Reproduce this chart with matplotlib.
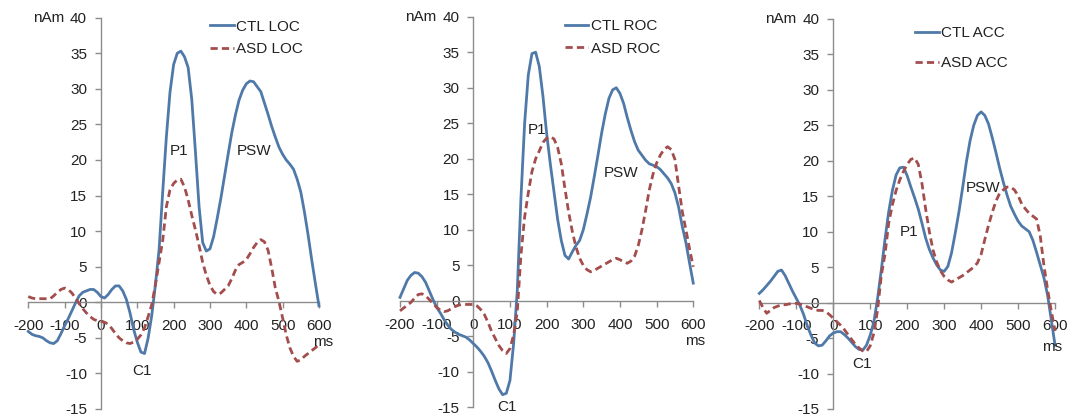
import matplotlib.pyplot as plt
from matplotlib.lines import Line2D

# ── data (10 ms steps) ───────────────────────────────────────────────────────

TIME_MS = list(range(-200, 601, 10))

CTL_LOC = [-4.1, -4.5, -4.7, -4.8, -5.0, -5.4, -5.7, -5.8, -5.4, -4.4,
           -3.3, -2.3, -1.2, -0.1, 0.9, 1.4, 1.6, 1.8, 1.8, 1.4,
           0.8, 0.6, 1.1, 1.8, 2.3, 2.3, 1.6, 0.4, -1.5, -3.8,
           -5.6, -7.0, -7.2, -5.0, -1.8, 2.5, 7.4, 15.5, 23.2, 29.5,
           33.4, 35.0, 35.3, 34.5, 33.0, 28.5, 21.2, 13.5, 8.4, 7.2,
           7.5, 9.2, 11.8, 14.6, 17.7, 20.8, 23.8, 26.3, 28.4, 29.8,
           30.7, 31.1, 31.0, 30.3, 29.6, 28.0, 26.4, 24.7, 23.2, 21.8,
           20.8, 20.0, 19.4, 18.7, 17.3, 15.5, 12.7, 9.5, 6.0, 2.7, -0.5]
ASD_LOC = [0.8, 0.6, 0.5, 0.5, 0.5, 0.5, 0.5, 0.9, 1.4, 1.8,
           2.0, 1.8, 1.3, 0.6, -0.2, -0.9, -1.5, -2.0, -2.4, -2.6,
           -2.7, -2.8, -3.1, -3.7, -4.4, -5.0, -5.4, -5.7, -5.8, -5.6,
           -5.2, -4.6, -3.6, -2.0, -0.3, 2.5, 5.6, 8.7, 13.4, 15.8,
           16.7, 17.2, 17.3, 16.2, 14.4, 12.2, 10.2, 8.0, 5.6, 3.8,
           2.4, 1.5, 1.1, 1.3, 1.8, 2.3, 3.3, 4.5, 5.3, 5.6,
           6.0, 6.8, 7.7, 8.4, 8.8, 8.5, 7.3, 4.8, 2.0, 0.1,
           -2.2, -4.6, -6.4, -7.6, -8.3, -8.1, -7.6, -7.2, -6.8, -6.4, -6.0]

CTL_ROC = [0.5, 1.7, 2.9, 3.6, 4.0, 3.9, 3.4, 2.6, 1.4, 0.2,
           -0.9, -1.7, -2.6, -3.4, -4.0, -4.4, -4.7, -4.9, -5.1, -5.5,
           -6.0, -6.5, -7.1, -7.8, -8.7, -9.9, -11.2, -12.4, -13.2, -13.0,
           -11.2, -6.0, 1.5, 14.5, 25.0, 31.8, 34.8, 35.0, 33.0, 28.8,
           23.6, 19.3, 15.4, 11.5, 8.5, 6.4, 5.9, 6.9, 7.8, 8.5,
           10.0, 12.2, 14.6, 17.5, 20.5, 23.6, 26.3, 28.5, 29.7, 30.0,
           29.2, 27.8, 25.8, 24.0, 22.4, 21.2, 20.5, 19.8, 19.3, 19.1,
           18.9, 18.5, 17.9, 17.3, 16.5, 15.2, 13.2, 10.5, 8.2, 5.3, 2.5]
ASD_ROC = [-1.4, -1.0, -0.6, -0.2, 0.4, 0.9, 1.0, 0.7, 0.2, -0.4,
           -0.9, -1.3, -1.5, -1.4, -1.1, -0.8, -0.6, -0.5, -0.5, -0.5,
           -0.5, -0.7, -1.2, -1.9, -3.0, -4.3, -5.3, -6.3, -7.0, -7.4,
           -6.7, -4.8, -1.5, 6.5, 11.8, 15.2, 18.2, 20.0, 21.1, 22.3,
           22.9, 23.1, 22.8, 21.6, 19.3, 15.8, 12.5, 9.8, 7.6, 6.0,
           5.0, 4.4, 4.1, 4.3, 4.6, 4.9, 5.2, 5.5, 5.8, 6.0,
           5.8, 5.5, 5.3, 5.6, 6.3, 7.8, 10.0, 12.7, 15.6, 17.8,
           19.4, 20.5, 21.3, 21.7, 21.3, 19.9, 16.2, 12.6, 10.0, 7.3, 4.8]

CTL_ACC = [1.3, 1.8, 2.4, 3.0, 3.7, 4.4, 4.6, 3.8, 2.7, 1.6,
           0.6, -0.4, -1.7, -3.3, -4.6, -5.7, -6.1, -6.0, -5.4, -4.7,
           -4.3, -4.1, -4.1, -4.5, -5.0, -5.6, -6.2, -6.6, -6.7, -6.0,
           -4.6, -2.7, 0.6, 4.6, 8.9, 12.8, 15.8, 18.0, 19.0, 19.1,
           17.9, 16.3, 14.8, 13.2, 11.2, 9.1, 7.5, 6.3, 5.3, 4.6,
           4.4, 5.1, 7.0, 9.8, 12.8, 16.2, 19.8, 22.8, 25.0, 26.4,
           26.9, 26.4, 25.2, 23.3, 21.2, 19.0, 17.0, 15.2, 13.6, 12.5,
           11.5, 10.8, 10.4, 10.0, 8.8, 7.1, 5.3, 3.5, 1.0, -2.5, -6.0]
ASD_ACC = [0.3, -0.7, -1.5, -1.1, -0.7, -0.5, -0.3, -0.3, -0.2, -0.1,
           -0.1, -0.2, -0.4, -0.6, -0.8, -1.0, -1.1, -1.1, -1.3, -1.7,
           -2.2, -2.7, -3.2, -3.8, -4.5, -5.2, -5.9, -6.4, -6.8, -6.9,
           -6.1, -4.3, -1.0, 3.8, 6.8, 11.2, 13.8, 15.8, 17.3, 18.5,
           19.5, 20.2, 20.4, 19.5, 16.8, 13.2, 10.0, 7.4, 5.7, 4.5,
           3.7, 3.2, 2.9, 3.2, 3.5, 3.8, 4.2, 4.6, 5.0, 5.6,
           6.8, 8.9, 10.9, 12.7, 14.3, 15.4, 15.9, 16.3, 16.3, 15.9,
           15.1, 13.9, 13.2, 12.6, 12.2, 11.8, 9.4, 5.2, 1.8, -1.2, -4.0]

REGIONS = ["LOC", "ROC", "ACC"]
X_TICKS = [-200, -100, 0, 100, 200, 300, 400, 500, 600]
Y_TICKS = [-15, -10, -5, 0, 5, 10, 15, 20, 25, 30, 35, 40]

# peak labels (text, x, y) per panel
PEAK_LABELS = {
    "LOC": [("P1", 216, 21.2), ("PSW", 422, 21.2), ("C1", 114, -9.6)],
    "ROC": [("P1", 173, 24.1), ("PSW", 402, 18.0), ("C1", 91, -15.0)],
    "ACC": [("P1", 205, 9.9), ("PSW", 406, 16.2), ("C1", 77, -8.6)],
}
MS_POS = {"LOC": (611, -5.6), "ROC": (605, -5.6), "ACC": (592, -6.2)}

# ── style ─────────────────────────────────────────────────────────────────────

CTL_COLOR  = "#4F79A8"
ASD_COLOR  = "#A34D4D"
AXIS_COLOR = "#8C8C8C"
TEXT_COLOR = "#222222"
FONT_SIZE  = 11
DASHES     = (2.6, 1.5)

plt.rcParams["font.family"] = ["Liberation Sans", "DejaVu Sans"]

# axes boxes in figure fractions: left, bottom, width, height
AX_BOXES = [
    (0.0262, 0.0192, 0.2694, 0.9384),
    (0.3707, 0.0228, 0.2718, 0.9372),
    (0.7037, 0.0192, 0.2741, 0.9353),
]
LEGEND_ANCHOR  = [(0.626, 0.995), (0.562, 0.993), (0.526, 0.982)]
LEGEND_SPACING = [0.55, 0.55, 1.05]

series = {
    "LOC": (CTL_LOC, ASD_LOC),
    "ROC": (CTL_ROC, ASD_ROC),
    "ACC": (CTL_ACC, ASD_ACC),
}

fig = plt.figure(figsize=(10.79, 4.17), dpi=100)

for i, region in enumerate(REGIONS):
    ax = fig.add_axes(AX_BOXES[i])
    ctl, asd = series[region]

    ax.plot(TIME_MS, ctl, color=CTL_COLOR, lw=2.0, clip_on=False, zorder=3,
            solid_joinstyle="round")
    ax.plot(TIME_MS, asd, color=ASD_COLOR, lw=2.0, dashes=DASHES,
            clip_on=False, zorder=3)

    ax.set_xlim(-200, 600)
    ax.set_ylim(-15, 40)

    for side in ("top", "right"):
        ax.spines[side].set_visible(False)
    ax.spines["left"].set_position(("data", 0))
    ax.spines["bottom"].set_position(("data", 0))
    for side in ("left", "bottom"):
        ax.spines[side].set_color(AXIS_COLOR)
        ax.spines[side].set_linewidth(1.0)

    ax.set_xticks(X_TICKS)
    ax.set_yticks(Y_TICKS)
    ax.set_xticklabels([str(v) for v in X_TICKS])
    ax.set_yticklabels([str(v) for v in Y_TICKS])
    ax.tick_params(axis="both", direction="out", length=4, width=1.0,
                   color=AXIS_COLOR, labelsize=FONT_SIZE, labelcolor=TEXT_COLOR)
    ax.tick_params(axis="x", pad=8)
    ax.tick_params(axis="y", pad=6)
    ax.patch.set_visible(False)

    ax.text(-100, 40, "nAm", ha="right", va="center", fontsize=FONT_SIZE,
            color=TEXT_COLOR)
    mx, my = MS_POS[region]
    ax.text(mx, my, "ms", ha="center", va="center", fontsize=FONT_SIZE,
            color=TEXT_COLOR)

    for label, lx, ly in PEAK_LABELS[region]:
        ax.text(lx, ly, label, ha="center", va="center", fontsize=FONT_SIZE,
                color=TEXT_COLOR, zorder=4)

    handles = [Line2D([], [], color=CTL_COLOR, lw=2.0),
               Line2D([], [], color=ASD_COLOR, lw=2.0, dashes=DASHES)]
    ax.legend(handles, [f"CTL {region}", f"ASD {region}"], loc="upper left",
              bbox_to_anchor=LEGEND_ANCHOR[i], frameon=False,
              fontsize=FONT_SIZE, handlelength=1.55, handletextpad=0.15,
              borderpad=0, borderaxespad=0, labelspacing=LEGEND_SPACING[i],
              labelcolor=TEXT_COLOR)

fig.savefig("out.png", dpi=100)
